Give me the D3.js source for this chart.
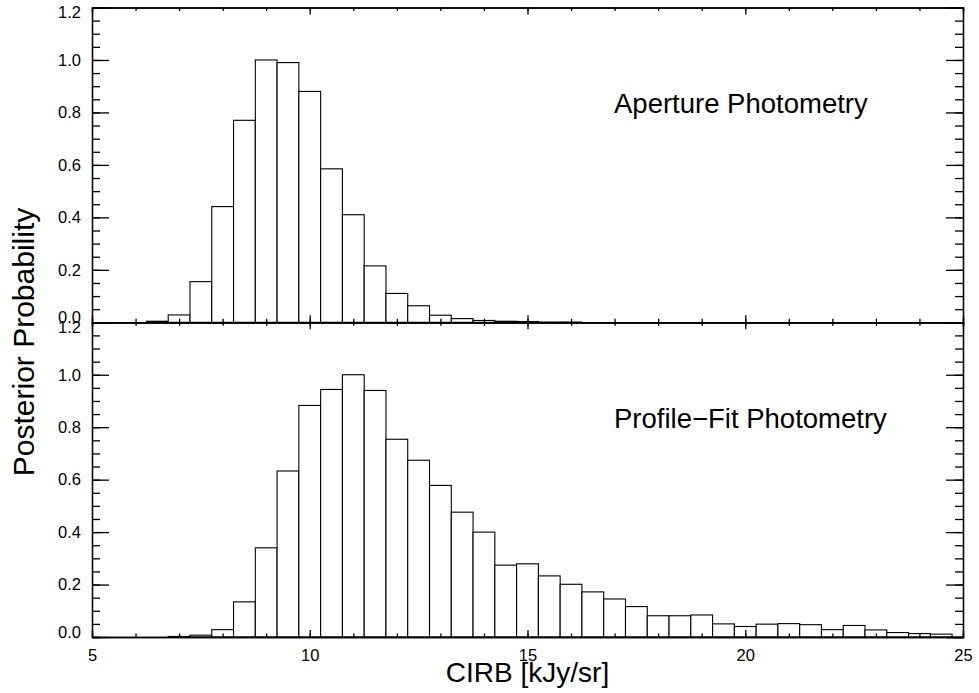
<!DOCTYPE html>
<html lang="en">
<head>
    <meta charset="utf-8">
    <style type="text/css">
        body { margin: 0; background: #fff; }
        svg { font-family: "Liberation Sans", Arial, Helvetica, sans-serif; }
        .bar { fill: #fff; stroke: #000; stroke-width: 1.1px; }
        .axis path, .axis line { stroke: #000; stroke-width: 1.3px; }
        .axis text { font-size: 16.5px; fill: #000; }
        .title { font-size: 27.5px; fill: #000; }
    </style>
</head>
<body>
<svg width="979" height="693"></svg>

<script src="https://d3js.org/d3.v7.min.js"></script>

<script type="text/javascript">
    // bin centres (kJy/sr), bins are 0.5 wide
    var binCenters = [5.5, 6.0, 6.5, 7.0, 7.5, 8.0, 8.5, 9.0, 9.5, 10.0,
        10.5, 11.0, 11.5, 12.0, 12.5, 13.0, 13.5, 14.0, 14.5, 15.0,
        15.5, 16.0, 16.5, 17.0, 17.5, 18.0, 18.5, 19.0, 19.5, 20.0,
        20.5, 21.0, 21.5, 22.0, 22.5, 23.0, 23.5, 24.0, 24.5];
    var binWidth = 0.5;

    var aperture = [0, 0, 0.004, 0.028, 0.155, 0.441, 0.770, 1.0, 0.99, 0.88,
        0.585, 0.41, 0.215, 0.11, 0.063, 0.027, 0.014, 0.007, 0.004, 0.003,
        0.001, 0.001, 0, 0, 0, 0, 0, 0, 0, 0,
        0, 0, 0, 0, 0, 0, 0, 0, 0];

    var profileFit = [0, 0, 0, 0.002, 0.007, 0.028, 0.134, 0.34, 0.633, 0.883,
        0.944, 1.0, 0.94, 0.754, 0.674, 0.578, 0.476, 0.40, 0.274, 0.279,
        0.233, 0.201, 0.172, 0.145, 0.116, 0.081, 0.081, 0.084, 0.05, 0.04,
        0.049, 0.051, 0.047, 0.028, 0.044, 0.027, 0.017, 0.013, 0.011];

    var panelLabels = ["Aperture Photometry", "Profile\u2212Fit Photometry"];
    var xMajorTicks = [5, 10, 15, 20, 25];
    var yMajorTicks = [0, 0.2, 0.4, 0.6, 0.8, 1.0, 1.2];

    var svg = d3.select("svg");
    var plotLeft = 92, plotRight = 963, plotTop = 7.5, plotMid = 322.3, plotBottom = 637;

    var x = d3.scaleLinear().domain([5, 25]).range([plotLeft, plotRight]);
    var xMinor = d3.range(5, 25.01, 1);
    var yMinor = d3.range(0, 1.2001, 0.05);

    var panels = [
        {values: aperture, y0: plotMid, y1: plotTop, label: panelLabels[0], ly: 113},
        {values: profileFit, y0: plotBottom, y1: plotMid, label: panelLabels[1], ly: 428}
    ];

    panels.forEach(function (p, pi) {
        var y = d3.scaleLinear().domain([0, 1.2]).range([p.y0, p.y1]);
        var g = svg.append("g");

        // bars
        g.selectAll(".bar")
            .data(p.values.map(function (v, i) { return {c: binCenters[i], v: v}; }))
            .enter()
            .append("rect")
            .attr("class", "bar")
            .attr("x", function (d) { return x(d.c - binWidth / 2); })
            .attr("width", function (d) { return x(d.c + binWidth / 2) - x(d.c - binWidth / 2); })
            .attr("y", function (d) { return y(d.v); })
            .attr("height", function (d) { return y(0) - y(d.v); });

        // y axes, ticks inside
        g.append("g").attr("class", "axis")
            .attr("transform", "translate(" + plotLeft + ",0)")
            .call(d3.axisLeft(y).tickValues(yMinor).tickSize(-8).tickFormat(""));
        var yl = g.append("g").attr("class", "axis")
            .attr("transform", "translate(" + plotLeft + ",0)")
            .call(d3.axisLeft(y).tickValues(yMajorTicks).tickSizeInner(-17).tickSizeOuter(0)
                .tickPadding(11).tickFormat(d3.format(".1f")));
        yl.selectAll("text")
            .attr("dy", function (d) { return d === 0 ? "0em" : (d === 1.2 ? "0.6em" : "0.32em"); });

        g.append("g").attr("class", "axis")
            .attr("transform", "translate(" + plotRight + ",0)")
            .call(d3.axisRight(y).tickValues(yMinor).tickSize(-8).tickFormat(""));
        g.append("g").attr("class", "axis")
            .attr("transform", "translate(" + plotRight + ",0)")
            .call(d3.axisRight(y).tickValues(yMajorTicks).tickSize(-17).tickFormat(""));

        // x axes top and bottom of the panel
        [p.y1, p.y0].forEach(function (yy, k) {
            var mk = k === 0 ? d3.axisTop : d3.axisBottom;
            g.append("g").attr("class", "axis")
                .attr("transform", "translate(0," + yy + ")")
                .call(mk(x).tickValues(xMinor).tickSize(-3.5).tickFormat(""));
            var ax = g.append("g").attr("class", "axis")
                .attr("transform", "translate(0," + yy + ")")
                .call(mk(x).tickValues(xMajorTicks).tickSizeInner(-7).tickSizeOuter(0)
                    .tickPadding(12).tickFormat(d3.format("d")));
            if (!(pi === 1 && k === 1)) ax.selectAll("text").remove();
        });

        g.append("text")
            .attr("class", "title")
            .attr("x", 614)
            .attr("y", p.ly)
            .text(p.label);
    });

    svg.append("text")
        .attr("class", "title")
        .attr("text-anchor", "middle")
        .style("font-size", "28px")
        .attr("x", (plotLeft + plotRight) / 2)
        .attr("y", 682)
        .text("CIRB [kJy/sr]");

    svg.append("text")
        .attr("class", "title")
        .attr("text-anchor", "middle")
        .style("font-size", "30px")
        .attr("transform", "translate(34,342) rotate(-90)")
        .text("Posterior Probability");
</script>

</body>
</html>
